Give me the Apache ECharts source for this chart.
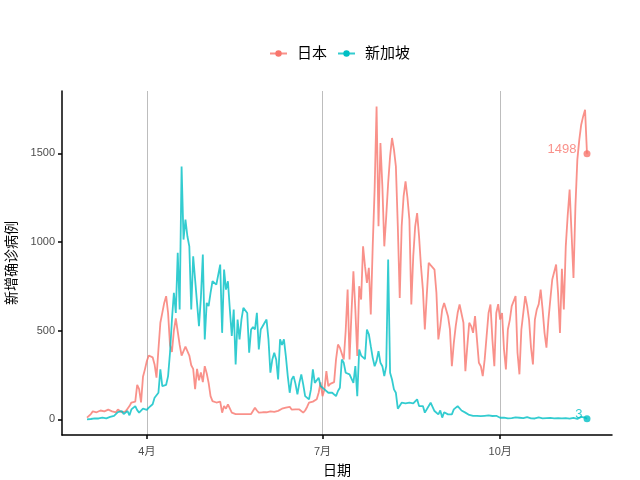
<!DOCTYPE html>
<html>
<head>
<meta charset="utf-8">
<script src="https://cdn.jsdelivr.net/npm/echarts@6/dist/echarts.min.js"></script>
<style>
  html, body { margin: 0; padding: 0; background: #fff; }
  #chart { width: 640px; height: 480px; }
</style>
</head>
<body>
<div id="chart"></div>
<script>
// 日期从 2020-03-01 开始，每天一个值
var startDate = [2020, 2, 1];
var seriesNames = ['日本', '新加坡'];

// 日本 每日新增确诊
var japan = [
  10, 20, 30, 45, 55, 40, 35, 50, 60, 45, 50, 55, 60, 45, 35, 40, 55, 45, 40, 50, 45, 60, 75, 95, 105, 100, 195, 170, 96, 240, 282,   // 3月
  329, 360, 366, 350, 310, 235, 394, 545, 601, 657, 695, 600, 420, 380, 500, 570, 575, 420, 360, 385, 410, 420, 360, 305, 285, 170, 285, 220, 265, 210,   // 4月
  300, 260, 206, 131, 103, 100, 95, 98, 100, 38, 75, 60, 85, 94, 38, 35, 30, 35, 30, 35, 30, 28, 30, 35, 30, 40, 66, 50, 38, 45, 40,   // 5月
  47, 40, 42, 45, 40, 42, 45, 48, 53, 60, 50, 66, 55, 71, 55, 60, 56, 50, 56, 60, 38, 50, 70, 94, 90, 100, 103, 113, 150, 208,   // 6月
  131, 169, 272, 188, 200, 206, 210, 338, 422, 404, 405, 338, 500, 732, 338, 600, 835, 620, 357, 751, 676, 976, 864, 770, 855, 592, 976, 1300, 1764, 1089, 1559,   // 7月
  1315, 976, 1145, 1333, 1484, 1587, 1521, 1427, 1089, 685, 1089, 1258, 1343, 1250, 1127, 648, 920, 1089, 1164, 1033, 864, 732, 507, 700, 883, 870, 860, 845, 714, 451, 526,   // 8月
  620, 657, 620, 582, 507, 300, 430, 526, 601, 648, 648, 545, 272, 413, 545, 526, 488, 582, 592, 319, 300, 244, 338, 470, 600, 648, 450, 300, 600, 650,   // 9月
  563, 600, 394, 282, 507, 560, 639, 650, 695, 376, 254, 507, 601, 695, 639, 560, 404, 310, 563, 620, 650, 732, 620, 488, 404, 560, 676, 789, 800, 873, 714,   // 10月
  488, 850, 620, 976, 1150, 1296, 1050, 798, 1200, 1465, 1577, 1662, 1709, 1746, 1498   // 11月
];

// 新加坡 每日新增确诊
var singapore = [
  0, 3, 2, 5, 6, 3, 5, 8, 10, 12, 6, 10, 14, 17, 20, 28, 41, 30, 47, 30, 40, 47, 23, 56, 66, 75, 52, 38, 45, 60, 66,   // 3月
  54, 66, 75, 85, 122, 113, 150, 282, 188, 190, 195, 244, 376, 563, 714, 600, 939, 620, 1426, 1014, 1127, 1033, 976, 620, 920, 789, 657, 526, 686, 930,   // 4月
  451, 657, 639, 714, 779, 770, 760, 751, 873, 488, 845, 732, 779, 620, 470, 620, 310, 563, 451, 563, 629, 639, 600, 376, 507, 520, 507, 601, 394, 507, 500,   // 5月
  545, 563, 451, 263, 338, 376, 338, 225, 451, 420, 451, 357, 244, 150, 225, 244, 200, 141, 206, 254, 197, 131, 120, 113, 169, 282, 206, 206, 235, 188,   // 6月
  188, 169, 180, 150, 160, 150, 150, 131, 160, 178, 338, 319, 263, 260, 254, 254, 206, 300, 131, 394, 360, 357, 340, 507, 480, 413, 347, 300, 330, 385, 319,   // 7月
  300, 244, 300, 901, 263, 225, 169, 150, 60, 56, 94, 94, 90, 94, 94, 96, 90, 96, 113, 75, 85, 75, 38, 45, 75, 94, 90, 47, 50, 28, 50,   // 8月
  10, 40, 30, 28, 30, 28, 56, 50, 75, 80, 50, 45, 38, 30, 25, 19, 20, 18, 20, 22, 18, 19, 20, 18, 22, 20, 19, 28, 20, 19,   // 9月
  9, 12, 10, 8, 5, 10, 7, 8, 11, 6, 9, 5, 7, 10, 13, 8, 6, 7, 5, 9, 11, 8, 6, 5, 7, 10, 8, 4, 6, 9, 7,   // 10月
  8, 5, 10, 7, 6, 4, 12, 8, 5, 3, 9, 14, 6, 10, 3   // 11月
];

var tickDates = [[2020, 3, 1], [2020, 6, 1], [2020, 9, 1]];
var tickLabels = ['4月', '7月', '10月'];
var yTicks = [0, 500, 1000, 1500];

var colors = ['#F8766D', '#00BFC4'];
var lineColors = ['rgba(248,118,109,0.8)', 'rgba(0,191,196,0.8)'];
var endLabelGap = [7, 1];
var font = "'Liberation Sans', 'Noto Sans CJK SC', sans-serif";
var DAY = 86400000;

// x 轴用“距 3月1日 的天数”
var t0 = Date.UTC(startDate[0], startDate[1], startDate[2]);
function dayIndex(d) {
  return Math.round((Date.UTC(d[0], d[1], d[2]) - t0) / DAY);
}
function toPairs(arr) {
  return arr.map(function (v, i) { return [i, v]; });
}

var tickDays = tickDates.map(dayIndex);
var last = japan.length - 1;
// ggplot 默认两边各留 5%
var xMin = -last * 0.05;
var xMax = last * 1.05;
var yTop = Math.max(Math.max.apply(null, japan), Math.max.apply(null, singapore));
var yMin = -yTop * 0.05;
var yMax = yTop * 1.05;

var allData = [japan, singapore];

var series = [];
allData.forEach(function (arr, k) {
  series.push({
    name: seriesNames[k],
    type: 'line',
    data: toPairs(arr),
    showSymbol: false,
    symbol: 'circle',
    symbolSize: 7,
    lineStyle: { color: lineColors[k], width: 1.8 },
    itemStyle: { color: colors[k] },
    z: 2 + k
  });
});
// 末尾的点和数字
allData.forEach(function (arr, k) {
  series.push({
    name: seriesNames[k] + '_end',
    type: 'scatter',
    data: [[arr.length - 1, arr[arr.length - 1]]],
    symbol: 'circle',
    symbolSize: 7,
    itemStyle: { color: colors[k] },
    label: {
      show: true,
      position: 'left',
      distance: endLabelGap[k],
      offset: [0, -4],
      color: colors[k],
      fontSize: 13,
      fontFamily: font,
      formatter: function (p) { return p.value[1]; }
    },
    z: 5
  });
});

var chart = echarts.init(document.getElementById('chart'));
chart.setOption({
  animation: false,
  backgroundColor: '#fff',
  textStyle: { fontFamily: font },
  legend: {
    data: seriesNames,
    left: 264,
    top: 41,
    itemWidth: 17,
    itemHeight: 8,
    itemGap: 10,
    textStyle: { fontSize: 15, color: '#000', fontFamily: font, padding: [0, 0, 0, 5] }
  },
  grid: { left: 62, right: 28, top: 91, bottom: 45, containLabel: false, outerBoundsMode: 'none' },
  xAxis: {
    type: 'value',
    min: xMin,
    max: xMax,
    name: '日期',
    nameLocation: 'middle',
    nameGap: 29,
    nameTextStyle: { fontSize: 14, color: '#000' },
    axisLine: { show: true, onZero: false, lineStyle: { color: '#000', width: 1.5 } },
    axisTick: { show: true, length: 4, customValues: tickDays, lineStyle: { color: '#000', width: 1.5 } },
    axisLabel: {
      customValues: tickDays,
      color: '#4d4d4d',
      fontSize: 11,
      margin: 11,
      formatter: function (v) {
        var i = tickDays.indexOf(v);
        return i >= 0 ? tickLabels[i] : '';
      }
    },
    splitLine: { show: true, lineStyle: { color: '#bdbdbd', width: 1 } }
  },
  yAxis: {
    type: 'value',
    min: yMin,
    max: yMax,
    name: '新增确诊病例',
    nameLocation: 'middle',
    nameGap: 42,
    nameTextStyle: { fontSize: 14, color: '#000' },
    axisLine: { show: true, onZero: false, lineStyle: { color: '#000', width: 1.5 } },
    axisTick: { show: true, length: 4, customValues: yTicks, lineStyle: { color: '#000', width: 1.5 } },
    axisLabel: {
      customValues: yTicks,
      color: '#4d4d4d',
      fontSize: 11,
      margin: 7,
      formatter: function (v) { return String(v); }
    },
    splitLine: { show: false }
  },
  series: series
});
</script>
</body>
</html>
